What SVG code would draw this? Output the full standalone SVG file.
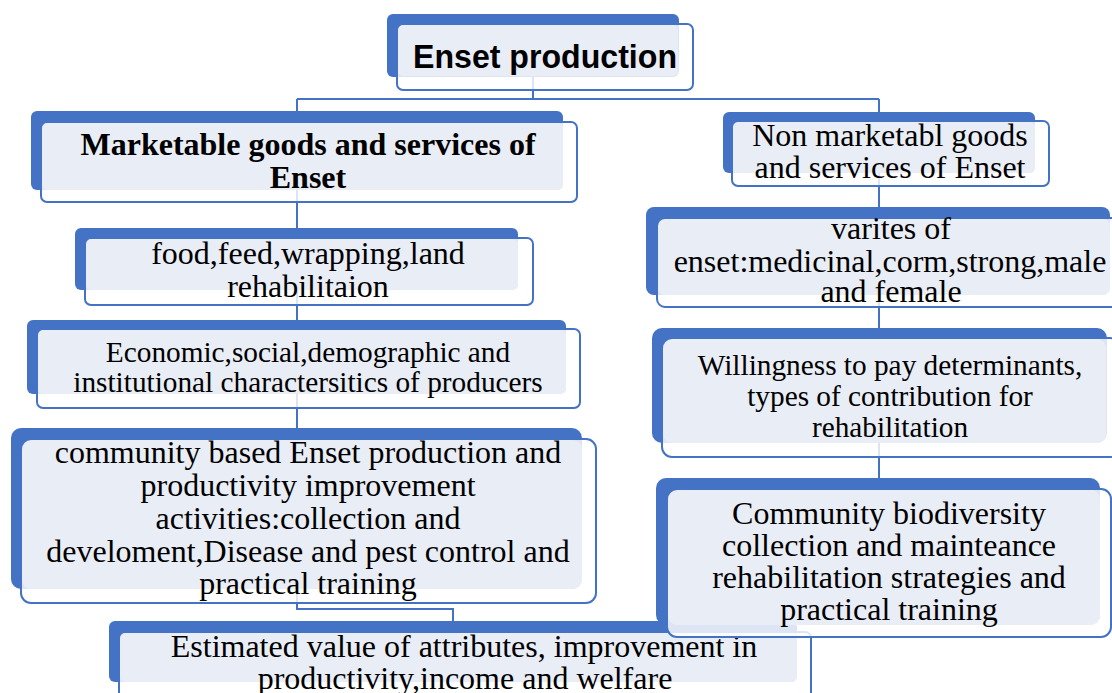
<svg xmlns="http://www.w3.org/2000/svg" width="1112" height="693" viewBox="0 0 1112 693">
  <style>
    .bk { fill: #4472C4; }
    .wh { fill: #FFFFFF; fill-opacity: 0.82; }
    .lt { fill: #E9EDF6; }
    .fr { fill: none; stroke: #4472C4; stroke-width: 2; }
    .cn { fill: none; stroke: #4472C4; stroke-width: 2; }
    .t  { font-family: "Liberation Serif", "Times New Roman", serif; font-size: 32px; text-anchor: middle; fill: #000; }
    .b  { font-weight: bold; }
    .s  { font-size: 29.3px; }
    .h  { font-family: "Liberation Sans", Arial, sans-serif; font-weight: bold; font-size: 33px; text-anchor: middle; fill: #000; }
  </style>
  <rect width="1112" height="693" fill="#FFFFFF"/>

  <!-- connectors, drawn beneath the nodes -->
  <g id="connectors">
    <path class="cn" d="M533 70 V99 M297 99 H879 M297 99 V115 M879 99 V115"/>
    <path class="cn" d="M297 185 V232 M297 285 V324 M297 390 V432"/>
    <path class="cn" d="M297 585 V609 H453 V625"/>
    <path class="cn" d="M879 170 V211 M879 290 V332 M879 440 V482"/>
  </g>

  <g id="enset-production">
    <rect class="bk" x="387" y="14" width="292" height="63" rx="6"/>
    <rect class="wh" x="397" y="24" width="296" height="66" rx="6"/>
    <rect class="lt" x="398" y="25" width="280" height="51" rx="5"/>
    <rect class="fr" x="397" y="24" width="296" height="66" rx="6"/>
    <text class="h" x="545" y="68" textLength="264" lengthAdjust="spacingAndGlyphs">Enset production</text>
  </g>

  <g id="marketable">
    <rect class="bk" x="31" y="111" width="532" height="79" rx="6"/>
    <rect class="wh" x="41" y="122" width="536" height="80" rx="6"/>
    <rect class="lt" x="42" y="123" width="521" height="67" rx="5"/>
    <rect class="fr" x="41" y="122" width="536" height="80" rx="6"/>
    <text class="t b" x="308" y="155">Marketable goods and services of</text>
    <text class="t b" x="308" y="188">Enset</text>
  </g>

  <g id="food-feed">
    <rect class="bk" x="75" y="228" width="443" height="62" rx="6"/>
    <rect class="wh" x="85" y="238" width="448" height="67" rx="6"/>
    <rect class="lt" x="86" y="239" width="432" height="51" rx="5"/>
    <rect class="fr" x="85" y="238" width="448" height="67" rx="6"/>
    <text class="t" x="308" y="264">food,feed,wrapping,land</text>
    <text class="t" x="308" y="297">rehabilitaion</text>
  </g>

  <g id="economic">
    <rect class="bk" x="27" y="320" width="539" height="74" rx="6"/>
    <rect class="wh" x="37" y="329" width="543" height="79" rx="6"/>
    <rect class="lt" x="38" y="330" width="528" height="64" rx="5"/>
    <rect class="fr" x="37" y="329" width="543" height="79" rx="6"/>
    <text class="t s" x="308" y="362">Economic,social,demographic and</text>
    <text class="t s" x="308" y="392">institutional charactersitics of producers</text>
  </g>

  <g id="community-production">
    <rect class="bk" x="11" y="428" width="571" height="161" rx="10"/>
    <rect class="wh" x="21" y="439" width="575" height="164" rx="10"/>
    <rect class="lt" x="22" y="440" width="560" height="149" rx="9"/>
    <rect class="fr" x="21" y="439" width="575" height="164" rx="10"/>
    <text class="t" x="308" y="463">community based Enset production and</text>
    <text class="t" x="308" y="496">productivity improvement</text>
    <text class="t" x="308" y="529">activities:collection and</text>
    <text class="t" x="308" y="562">develoment,Disease and pest control and</text>
    <text class="t" x="308" y="594">practical training</text>
  </g>

  <g id="estimated-value">
    <rect class="bk" x="109" y="621" width="688" height="61" rx="6"/>
    <rect class="wh" x="119" y="632" width="692" height="68" rx="6"/>
    <rect class="lt" x="120" y="633" width="677" height="49" rx="5"/>
    <rect class="fr" x="119" y="632" width="692" height="68" rx="6"/>
    <text class="t" x="464" y="657">Estimated value of attributes, improvement in</text>
    <text class="t" x="465" y="689">productivity,income and welfare</text>
  </g>

  <g id="non-marketable">
    <rect class="bk" x="723" y="112" width="312" height="61" rx="6"/>
    <rect class="wh" x="732" y="121" width="317" height="65" rx="6"/>
    <rect class="lt" x="733" y="122" width="302" height="51" rx="5"/>
    <rect class="fr" x="732" y="121" width="317" height="65" rx="6"/>
    <text class="t" x="890" y="146">Non marketabl goods</text>
    <text class="t" x="890" y="178">and services of Enset</text>
  </g>

  <g id="varieties">
    <rect class="bk" x="646" y="207" width="464" height="88" rx="8"/>
    <rect class="wh" x="657" y="218" width="463" height="89" rx="8"/>
    <rect class="lt" x="658" y="219" width="452" height="76" rx="7"/>
    <rect class="fr" x="657" y="218" width="463" height="89" rx="8"/>
    <text class="t" x="891" y="239">varites of</text>
    <text class="t" x="890" y="272">enset:medicinal,corm,strong,male</text>
    <text class="t" x="891" y="302">and female</text>
  </g>

  <g id="willingness">
    <rect class="bk" x="652" y="328" width="455" height="115" rx="10"/>
    <rect class="wh" x="662" y="338" width="458" height="119" rx="10"/>
    <rect class="lt" x="663" y="339" width="443" height="104" rx="9"/>
    <rect class="fr" x="662" y="338" width="458" height="119" rx="10"/>
    <text class="t s" x="890" y="375">Willingness to pay determinants,</text>
    <text class="t s" x="890" y="406">types of contribution for</text>
    <text class="t s" x="890" y="437">rehabilitation</text>
  </g>

  <g id="community-biodiversity">
    <rect class="bk" x="656" y="478" width="444" height="147" rx="10"/>
    <rect class="wh" x="667" y="489" width="444" height="148" rx="10"/>
    <rect class="lt" x="668" y="490" width="432" height="135" rx="9"/>
    <rect class="fr" x="667" y="489" width="444" height="148" rx="10"/>
    <text class="t" x="889" y="524">Community biodiversity</text>
    <text class="t" x="889" y="556">collection and mainteance</text>
    <text class="t" x="889" y="588">rehabilitation strategies and</text>
    <text class="t" x="889" y="620">practical training</text>
  </g>
</svg>
